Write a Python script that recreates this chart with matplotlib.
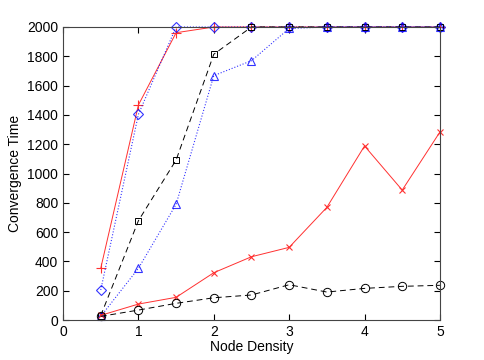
import matplotlib
matplotlib.use('Agg')
import matplotlib.pyplot as plt
import numpy as np

plt.rcParams['font.family'] = ['Liberation Sans', 'DejaVu Sans']

density = [0.5, 1, 1.5, 2, 2.5, 3, 3.5, 4, 4.5, 5]
plus_vals = [353, 1468, 1961, 2000, 2000, 2000, 2000, 2000, 2000, 2000]
diamond_vals = [205, 1404, 2000, 2000, 2000, 2000, 2000, 2000, 2000, 2000]
square_vals = [30, 678, 1092, 1814, 2000, 2000, 2000, 2000, 2000, 2000]
triangle_vals = [25, 353, 790, 1668, 1770, 1990, 2000, 2000, 2000, 2000]
cross_vals = [32, 109, 155, 323, 432, 496, 769, 1188, 887, 1283]
circle_vals = [25, 68, 114, 152, 171, 241, 191, 216, 230, 237]

fig = plt.figure(figsize=(4.85, 3.6), dpi=100)
ax = fig.add_axes([0.13, 0.111, 0.777, 0.814])

ax.plot(density, plus_vals, '-', color='#ff3030', marker='+', ms=7, lw=0.7, mew=0.8, clip_on=False)
ax.plot(density, diamond_vals, 'b:', marker='D', ms=5, lw=0.8, mfc='none', mew=0.8, alpha=0.8, clip_on=False)
ax.plot(density, square_vals, 'k--', marker='s', ms=5, lw=0.7, mfc='none', mew=0.7, dashes=(6, 4), clip_on=False)
ax.plot(density, triangle_vals, 'b:', marker='^', ms=6, lw=0.8, mfc='none', mew=0.8, alpha=0.8, clip_on=False)
ax.plot(density, cross_vals, '-', color='#ff3030', marker='x', ms=5, lw=0.7, mew=0.8, clip_on=False)
ax.plot(density, circle_vals, 'k--', marker='o', ms=6, lw=0.7, mfc='none', mew=0.7, dashes=(6, 4), clip_on=False)

ax.set_xlim(0, 5)
ax.set_ylim(0, 2000)
ax.set_xticks(np.arange(0, 6, 1))
ax.set_yticks(np.arange(0, 2001, 200))
ax.tick_params(direction='in', length=4, labelsize=10, top=True, right=True)
for s in ax.spines.values():
    s.set_color('#444444')
ax.set_xlabel('Node Density', fontsize=10, labelpad=1)
ax.set_ylabel('Convergence Time', fontsize=10)

fig.savefig('out.png', dpi=100)
